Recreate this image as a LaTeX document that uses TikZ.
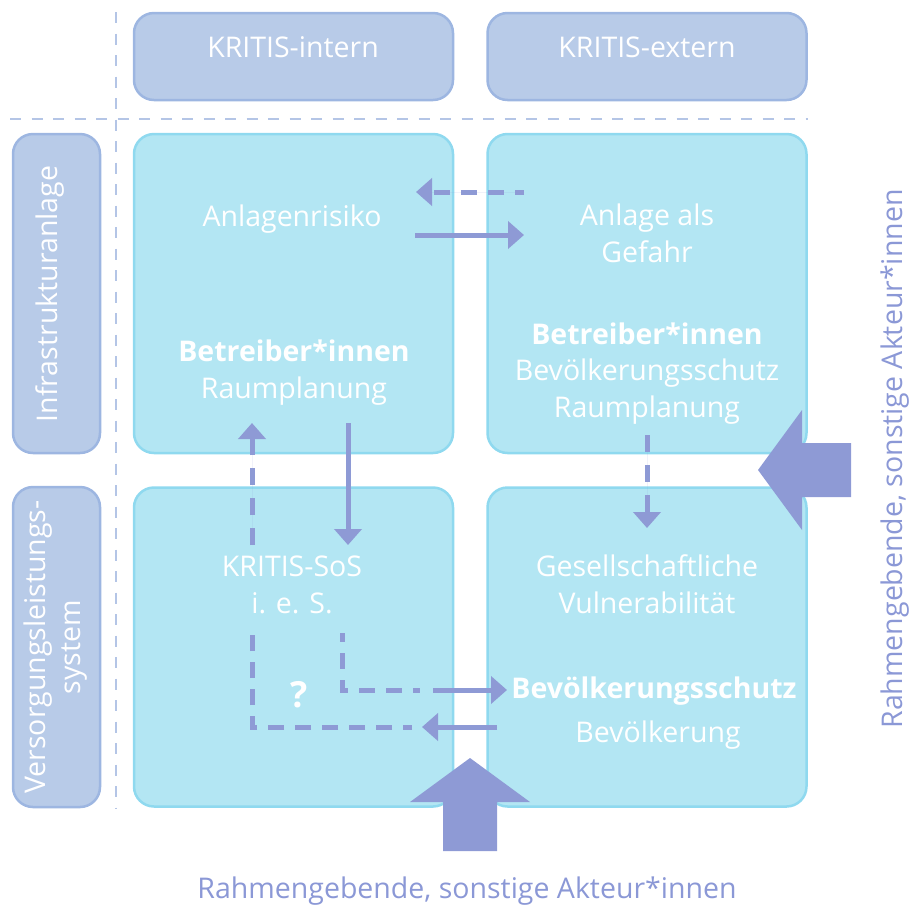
\documentclass[tikz,border=0pt]{standalone}
\usepackage{fontspec}
\setmainfont{Open Sans}
\usetikzlibrary{arrows.meta}
\definecolor{cellfill}{HTML}{B3E6F3}
\definecolor{cellline}{HTML}{8FD9EF}
\definecolor{headfill}{HTML}{B8CBE8}
\definecolor{headline}{HTML}{9DB6E1}
\definecolor{guideline}{HTML}{B4C5E6}
\definecolor{linkcol}{HTML}{8E9AD5}
\definecolor{framecol}{HTML}{8B98D6}
\begin{document}
\begin{tikzpicture}[x=1pt,y=-1pt,
	font=\fontsize{28.5}{36.5}\selectfont,
	>={Triangle[length=16pt,width=27pt]},
	guide/.style={draw=guideline,line width=2.5pt,dash pattern=on 11pt off 10.5pt},
	head/.style={draw=headline,fill=headfill,line width=2.5pt,rounded corners=20pt,
		minimum width=319pt,minimum height=87pt,inner sep=0pt},
	side/.style={head,minimum width=87pt,minimum height=319pt},
	cell/.style={draw=cellline,fill=cellfill,line width=2.5pt,rounded corners=20pt,
		minimum size=319pt,inner sep=0pt},
	txt/.style={text=white,align=center,anchor=base,inner sep=0pt},
	link/.style={draw=linkcol,fill=linkcol,line width=5pt},
	dsh/.style={link,dash pattern=on 16pt off 11pt,dash phase=7pt}]
	\useasboundingbox (0,0) rectangle (909,906);
	\draw[guide] (10,119) -- (808,119) (116,12) -- (116,808);
	% Kopfzeile und Seitenspalte
	\node[head] (intern) at (293.5,56.5) {};
	\node[head] (extern) at (647,56.5) {};
	\node[side] (anlage) at (56.5,293.5) {};
	\node[side,minimum height=320pt] (system) at (56.5,647) {};
	\node[txt] (intern-t) at (293,57) {KRITIS-intern};
	\node[txt] (extern-t) at (647,57) {KRITIS-extern};
	\node[txt,rotate=90] (anlage-t) at (57,294) {Infrastrukturanlage};
	\node[txt,rotate=90,anchor=center,font=\fontsize{28.5}{35}\selectfont] (system-t) at (56,647)
		{Versorgungsleistungs-\\system};
	% Felder (base = letzte Zeile)
	\node[cell] (c11) at (293.5,293.5) {};
	\node[cell] (c12) at (647,293.5) {};
	\node[cell] (c21) at (293.5,647) {};
	\node[cell] (c22) at (647,647) {};
	\node[txt] (risiko) at (292,226) {Anlagenrisiko};
	\node[txt] (akt11) at (294,398) {\textbf{Betreiber*innen}\\Raumplanung};
	\node[txt] (gefahr) at (647,262) {Anlage als\\Gefahr};
	\node[txt] (akt12) at (647,417) {\textbf{Betreiber*innen}\\Bevölkerungsschutz\\Raumplanung};
	\node[txt] (sos) at (292,613) {KRITIS-SoS\\i. e. S.};
	\node[txt,font=\fontsize{36}{40}\selectfont\bfseries] (frage) at (299,707) {?};
	\node[txt] (vuln) at (647,613) {Gesellschaftliche\\Vulnerabilität};
	\node[txt] (bvs) at (654,698) {\textbf{Bevölkerungsschutz}};
	\node[txt] (bev) at (658,742) {Bevölkerung};
	% Wirkpfeile
	\coordinate (a1) at (524,192); \coordinate (b1) at (416,192);
	\coordinate (a2) at (415,235); \coordinate (b2) at (524,235);
	\coordinate (a3) at (348,423); \coordinate (b3) at (348,545);
	\coordinate (a4) at (647,435); \coordinate (b4) at (647,528);
	\coordinate (a5) at (342,633); \coordinate (b5) at (420,690);
	\coordinate (a6) at (433,690); \coordinate (b6) at (507,690);
	\coordinate (a7) at (497,727); \coordinate (b7) at (422,727);
	\coordinate (a8) at (412,727); \coordinate (b8) at (252,633);
	\coordinate (a9) at (252,545); \coordinate (b9) at (252,423);
	\draw[dsh,->] (a1) -- (b1);
	\draw[link,->] (a2) -- (b2);
	\draw[link,->] (a3) -- (b3);
	\draw[dsh,->,dash pattern=on 17pt off 13pt,dash phase=0pt] (a4) -- (b4);
	\draw[dsh,fill=none] (a5) |- (b5);
	\draw[link,->] (a6) -- (b6);
	\draw[link,->] (a7) -- (b7);
	\draw[dsh,fill=none] (a8) -| (b8);
	\draw[dsh,->,dash pattern=on 17pt off 13pt,dash phase=0pt] (a9) -- (b9);
	% Rahmengebende
	\fill[linkcol] (758,470) -- (802,410) -- (802,443) -- (851,443) -- (851,497)
		-- (802,497) -- (802,530) -- cycle;
	\fill[linkcol] (470,758) -- (410,802) -- (443,802) -- (443,851) -- (497,851)
		-- (497,802) -- (530,802) -- cycle;
	\node[txt,text=framecol] (rahmen-b) at (467,898) {Rahmengebende, sonstige Akteur*innen};
	\node[txt,text=framecol,rotate=90] (rahmen-r) at (902,459) {Rahmengebende, sonstige Akteur*innen};
\end{tikzpicture}
\end{document}
